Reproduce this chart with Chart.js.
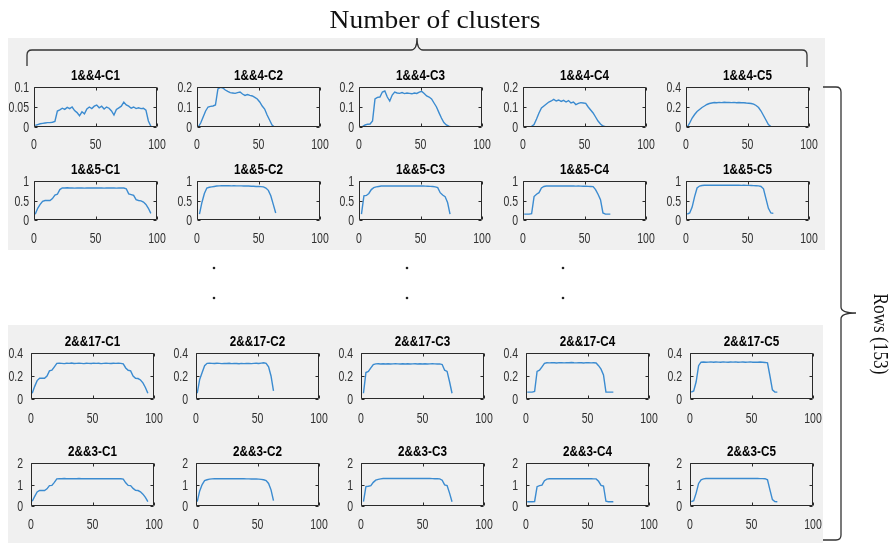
<!DOCTYPE html>
<html><head><meta charset="utf-8">
<script src="https://cdn.jsdelivr.net/npm/chart.js@4.4.1/dist/chart.umd.min.js"></script>
<style>
html,body{margin:0;padding:0;background:#fff;width:893px;height:543px;overflow:hidden;position:relative}
.panel{position:absolute;background:#f0f0f0}
canvas{position:absolute}
.t{position:absolute;font-family:"Liberation Serif","Times New Roman",serif;color:#111;white-space:nowrap;text-align:center}
svg{position:absolute;left:0;top:0}
</style></head><body>
<div class="panel" style="left:8px;top:38px;width:817px;height:212px"></div>
<div class="panel" style="left:8px;top:325px;width:815px;height:218px"></div>
<div id="host"></div>
<svg width="893" height="543">
<path d="M27,66 L27,55 Q27,50 32,50 L411,50 Q417,50 417,38 Q417,50 423,50 L802,50 Q807,50 807,55 L807,67" fill="none" stroke="#333" stroke-width="1.3"/>
<path d="M823,87 L836,87 Q841,87 841,92 L841,307 Q841,313 856,313 Q841,313 841,319 L841,535 Q841,540 836,540 L823,540" fill="none" stroke="#333" stroke-width="1.3"/>
<circle cx="214" cy="268" r="1.3" fill="#222"/><circle cx="214" cy="298" r="1.3" fill="#222"/>
<circle cx="407" cy="268" r="1.3" fill="#222"/><circle cx="407" cy="298" r="1.3" fill="#222"/>
<circle cx="563" cy="268" r="1.3" fill="#222"/><circle cx="563" cy="298" r="1.3" fill="#222"/>
</svg>
<div class="t" style="left:285px;top:7px;width:300px;font-size:25px;line-height:25px;transform:scaleX(1.1)">Number of clusters</div>
<div class="t" style="left:821px;top:322px;width:120px;height:24px;font-size:20px;line-height:24px;transform:rotate(90deg) scaleX(0.86)">Rows (153)</div>
<script>
const SANS = '"Liberation Sans", Arial, sans-serif';

const rowNames = ['1&&4', '1&&5', '2&&17', '2&&3'];
const clusterNames = ['C1', 'C2', 'C3', 'C4', 'C5'];
const xTickLabels = [0, 50, 100];
const yTicks14 = [[0, 0.05, 0.1], [0, 0.1, 0.2], [0, 0.1, 0.2], [0, 0.1, 0.2], [0, 0.2, 0.4]];
const yTicks15 = [0, 0.5, 1];
const yTicks217 = [0, 0.2, 0.4];
const yTicks23 = [0, 1, 2];

// first x of each series (samples every 2 units)
const xStart14 = [1, 1, 1, 1, 1];
const xStart15 = [1, 2, 2, 1, 1];
const xStart217 = [1, 1, 2, 1, 1];
const xStart23 = [1, 1, 2, 1, 1];

// ---- 1&&4 ----
const s14_C1 = [
  0.004,0.006,0.008,0.009,0.010,0.011,0.011,0.012,0.014,0.040,
  0.043,0.047,0.044,0.049,0.046,0.050,0.041,0.036,0.028,0.038,
  0.033,0.045,0.050,0.046,0.052,0.055,0.048,0.052,0.045,0.050,
  0.047,0.040,0.030,0.044,0.048,0.052,0.062,0.055,0.052,0.047,
  0.050,0.046,0.048,0.046,0.047,0.042,0.015,0.002];
const s14_C2 = [
  0.0,0.02,0.05,0.08,0.10,0.103,0.105,0.11,0.19,0.198,
  0.195,0.185,0.178,0.172,0.17,0.168,0.172,0.175,0.165,0.158,
  0.162,0.158,0.155,0.148,0.14,0.125,0.105,0.09,0.06,0.035,
  0.01,0.0];
const s14_C3 = [
  0.0,0.003,0.01,0.014,0.015,0.03,0.14,0.148,0.15,0.175,
  0.18,0.15,0.13,0.16,0.175,0.17,0.168,0.172,0.167,0.17,
  0.168,0.166,0.17,0.168,0.174,0.178,0.168,0.155,0.15,0.14,
  0.12,0.1,0.072,0.045,0.022,0.01,0.004,0.0];
const s14_C4 = [
  0.0,0.0,0.001,0.003,0.012,0.04,0.07,0.095,0.105,0.115,
  0.125,0.13,0.138,0.13,0.135,0.128,0.133,0.125,0.132,0.12,
  0.125,0.112,0.118,0.122,0.12,0.118,0.1,0.085,0.07,0.05,
  0.03,0.015,0.005,0.002,0.002,0.001,0.0];
const s14_C5 = [
  0.0,0.04,0.09,0.125,0.155,0.175,0.195,0.21,0.225,0.235,
  0.24,0.245,0.243,0.246,0.244,0.247,0.245,0.246,0.244,0.246,
  0.243,0.245,0.242,0.243,0.24,0.238,0.235,0.228,0.215,0.195,
  0.16,0.115,0.07,0.025,0.005,0.002,0.0];

// ---- 1&&5 ----
const s15_C1 = [
  0.15,0.3,0.4,0.48,0.5,0.5,0.5,0.55,0.64,0.66,
  0.78,0.82,0.82,0.825,0.82,0.822,0.818,0.82,0.823,0.82,
  0.818,0.821,0.82,0.824,0.82,0.819,0.822,0.82,0.818,0.821,
  0.82,0.823,0.82,0.818,0.82,0.822,0.82,0.8,0.67,0.65,
  0.63,0.52,0.5,0.49,0.46,0.4,0.3,0.17];
const s15_C2 = [
  0.15,0.45,0.68,0.82,0.84,0.85,0.86,0.87,0.875,0.88,
  0.88,0.878,0.88,0.875,0.878,0.876,0.874,0.875,0.872,0.87,
  0.87,0.866,0.865,0.86,0.858,0.855,0.85,0.82,0.76,0.62,
  0.4,0.18];
const s15_C3 = [
  0.15,0.62,0.63,0.68,0.78,0.83,0.85,0.86,0.87,0.875,
  0.87,0.872,0.875,0.87,0.873,0.875,0.872,0.874,0.87,0.873,
  0.872,0.87,0.874,0.871,0.87,0.872,0.868,0.865,0.862,0.86,
  0.85,0.83,0.7,0.64,0.6,0.45,0.15];
const s15_C4 = [
  0.15,0.15,0.15,0.16,0.6,0.66,0.7,0.82,0.86,0.87,
  0.875,0.872,0.874,0.87,0.873,0.875,0.871,0.874,0.87,0.872,
  0.87,0.868,0.872,0.869,0.866,0.865,0.862,0.86,0.855,0.78,
  0.66,0.52,0.18,0.15,0.15,0.15];
const s15_C5 = [
  0.15,0.18,0.33,0.6,0.82,0.87,0.885,0.89,0.892,0.89,
  0.893,0.89,0.891,0.894,0.89,0.892,0.89,0.893,0.89,0.891,
  0.89,0.892,0.889,0.89,0.888,0.887,0.885,0.882,0.88,0.875,
  0.86,0.8,0.55,0.3,0.18,0.17];

// ---- 2&&17 ----
const s217_C1 = [
  0.05,0.11,0.16,0.18,0.18,0.18,0.2,0.245,0.25,0.28,
  0.31,0.312,0.31,0.308,0.311,0.31,0.313,0.309,0.31,0.312,
  0.31,0.308,0.311,0.31,0.309,0.312,0.31,0.311,0.308,0.31,
  0.312,0.31,0.309,0.311,0.31,0.312,0.31,0.305,0.27,0.25,
  0.245,0.2,0.18,0.178,0.165,0.14,0.1,0.05];
const s217_C2 = [
  0.05,0.17,0.23,0.29,0.31,0.312,0.31,0.309,0.311,0.31,
  0.308,0.31,0.309,0.311,0.308,0.31,0.309,0.307,0.31,0.308,
  0.309,0.31,0.308,0.31,0.311,0.309,0.312,0.315,0.31,0.28,
  0.2,0.07];
const s217_C3 = [
  0.05,0.23,0.24,0.27,0.3,0.305,0.306,0.304,0.307,0.305,
  0.306,0.304,0.305,0.307,0.305,0.304,0.306,0.305,0.307,0.304,
  0.305,0.306,0.304,0.307,0.305,0.306,0.304,0.305,0.306,0.305,
  0.304,0.305,0.3,0.25,0.24,0.15,0.05];
const s217_C4 = [
  0.06,0.06,0.06,0.065,0.24,0.25,0.28,0.31,0.315,0.314,
  0.316,0.315,0.313,0.316,0.315,0.314,0.316,0.315,0.317,0.315,
  0.314,0.316,0.315,0.313,0.316,0.315,0.314,0.315,0.313,0.29,
  0.26,0.21,0.06,0.06,0.06,0.06];
const s217_C5 = [
  0.06,0.07,0.15,0.29,0.32,0.322,0.32,0.321,0.323,0.32,
  0.322,0.321,0.32,0.323,0.321,0.32,0.322,0.321,0.323,0.32,
  0.321,0.322,0.32,0.321,0.323,0.32,0.321,0.32,0.322,0.32,
  0.318,0.315,0.2,0.08,0.06,0.06];

// ---- 2&&3 ----
const s23_C1 = [
  0.22,0.45,0.65,0.72,0.72,0.72,0.8,0.95,0.96,1.1,
  1.26,1.27,1.265,1.28,1.27,1.275,1.268,1.272,1.27,1.278,
  1.27,1.265,1.272,1.27,1.275,1.268,1.27,1.274,1.27,1.268,
  1.272,1.27,1.275,1.27,1.268,1.272,1.27,1.25,1.08,0.96,
  0.95,0.82,0.73,0.72,0.66,0.55,0.4,0.2];
const s23_C2 = [
  0.2,0.7,1.0,1.18,1.22,1.25,1.26,1.27,1.272,1.27,
  1.268,1.27,1.272,1.27,1.268,1.265,1.27,1.266,1.264,1.265,
  1.262,1.26,1.258,1.26,1.255,1.25,1.24,1.22,1.18,1.05,
  0.75,0.25];
const s23_C3 = [
  0.2,0.9,0.92,0.95,1.1,1.2,1.24,1.26,1.28,1.278,
  1.28,1.282,1.279,1.28,1.283,1.28,1.278,1.281,1.28,1.282,
  1.28,1.279,1.281,1.28,1.278,1.28,1.279,1.276,1.275,1.27,
  1.268,1.26,1.2,0.98,0.95,0.6,0.2];
const s23_C4 = [
  0.2,0.2,0.2,0.21,0.9,0.95,0.97,1.18,1.25,1.27,
  1.272,1.27,1.275,1.27,1.268,1.273,1.27,1.272,1.27,1.274,
  1.27,1.268,1.272,1.27,1.268,1.27,1.265,1.262,1.26,1.15,
  0.96,0.93,0.22,0.2,0.2,0.2];
const s23_C5 = [
  0.2,0.25,0.6,1.05,1.22,1.26,1.28,1.282,1.28,1.283,
  1.28,1.281,1.283,1.28,1.282,1.28,1.281,1.283,1.28,1.282,
  1.28,1.281,1.279,1.28,1.278,1.28,1.277,1.276,1.275,1.272,
  1.27,1.22,0.75,0.3,0.21,0.2];

const grid = [
  {name: rowNames[0], series: [s14_C1, s14_C2, s14_C3, s14_C4, s14_C5], starts: xStart14, ticks: yTicks14},
  {name: rowNames[1], series: [s15_C1, s15_C2, s15_C3, s15_C4, s15_C5], starts: xStart15, ticks: [yTicks15, yTicks15, yTicks15, yTicks15, yTicks15]},
  {name: rowNames[2], series: [s217_C1, s217_C2, s217_C3, s217_C4, s217_C5], starts: xStart217, ticks: [yTicks217, yTicks217, yTicks217, yTicks217, yTicks217]},
  {name: rowNames[3], series: [s23_C1, s23_C2, s23_C3, s23_C4, s23_C5], starts: xStart23, ticks: [yTicks23, yTicks23, yTicks23, yTicks23, yTicks23]}
];

// layout (plot box positions in page pixels)
const colTop = [34, 197, 359, 523, 686];
const colBot = [31, 196, 361, 526, 690];
const rowTop = [87, 181, 353, 463];
const rowH = [40, 39, 46, 43];
const rowGap = [5, 5, 8, 8];
const rowLbl = [16.5, 17.5, 18.5, 18];
const BW = 123, YW = 40, PR = 14, XH = 32, TH = 24;

function drawScaled(ctx, text, x, y, align, sx) {
  ctx.save();
  ctx.translate(x, y);
  ctx.scale(sx, 1);
  ctx.textAlign = align;
  ctx.textBaseline = 'alphabetic';
  ctx.fillText(text, 0, 0);
  ctx.restore();
}

const boxPlugin = {
  id: 'box',
  afterDatasetsDraw(c, args, o) {
    const a = c.chartArea, ctx = c.ctx, xs = c.scales.x, ys = c.scales.y;
    const L = Math.round(a.left) + 0.5, T = Math.round(a.top) + 0.5;
    const R = Math.round(a.right) - 0.5, B = Math.round(a.bottom) - 0.5;
    ctx.save();
    ctx.strokeStyle = '#2a2a2a';
    ctx.lineWidth = 1;
    ctx.beginPath();
    ctx.rect(L, T, R - L, B - T);
    xs.ticks.forEach(t => {
      const p = Math.round(xs.getPixelForValue(t.value)) + 0.5;
      ctx.moveTo(p, B); ctx.lineTo(p, B - 3);
      ctx.moveTo(p, T); ctx.lineTo(p, T + 3);
    });
    ys.ticks.forEach(t => {
      const p = Math.round(ys.getPixelForValue(t.value)) + 0.5;
      ctx.moveTo(L, p); ctx.lineTo(L + 3, p);
      ctx.moveTo(R, p); ctx.lineTo(R - 3, p);
    });
    ctx.stroke();
    // tick labels (narrow, MATLAB-like)
    ctx.fillStyle = '#303030';
    ctx.font = '14px ' + SANS;
    xs.ticks.forEach(t => drawScaled(ctx, String(t.value), xs.getPixelForValue(t.value), a.bottom + o.lbl + 5, 'center', 0.75));
    ys.ticks.forEach(t => drawScaled(ctx, String(t.value), a.left - o.gap, ys.getPixelForValue(t.value) + 5, 'right', 0.75));
    // subplot title
    ctx.fillStyle = '#000';
    ctx.font = 'bold 15px ' + SANS;
    drawScaled(ctx, o.title, (a.left + a.right) / 2, a.top - 7, 'center', 0.78);
    ctx.restore();
  }
};

const host = document.getElementById('host');
grid.forEach((row, r) => {
  row.series.forEach((ys, c) => {
    const bx = (r < 2 ? colTop : colBot)[c];
    const by = rowTop[r], bh = rowH[r];
    const cv = document.createElement('canvas');
    cv.width = YW + BW + PR;
    cv.height = TH + bh + XH;
    cv.style.left = (bx - YW) + 'px';
    cv.style.top = (by - TH) + 'px';
    host.appendChild(cv);
    const yt = row.ticks[c];
    const x0 = row.starts[c];
    const pts = ys.map((v, i) => ({x: x0 + 2 * i, y: v}));
    const ch = new Chart(cv, {
      type: 'line',
      data: {datasets: [{data: pts, borderColor: '#3b8bd0', borderWidth: 1.4, pointRadius: 0, tension: 0, fill: false}]},
      options: {
        responsive: false, maintainAspectRatio: false, animation: false, devicePixelRatio: 1,
        layout: {padding: {left: 0, right: PR, top: TH, bottom: 0}},
        plugins: {
          legend: {display: false}, tooltip: {enabled: false}, title: {display: false},
          box: {title: row.name + '-' + clusterNames[c], gap: rowGap[r], lbl: rowLbl[r]}
        },
        scales: {
          x: {type: 'linear', min: 0, max: 100,
              grid: {display: false, drawTicks: false}, border: {display: false},
              afterBuildTicks: s => { s.ticks = xTickLabels.map(v => ({value: v})); },
              ticks: {display: false},
              afterFit: s => { s.height = XH; }},
          y: {type: 'linear', min: yt[0], max: yt[yt.length - 1],
              grid: {display: false, drawTicks: false}, border: {display: false},
              afterBuildTicks: s => { s.ticks = yt.map(v => ({value: v})); },
              ticks: {display: false},
              afterFit: s => { s.width = YW; }}
        }
      },
      plugins: [boxPlugin]
    });
    const dy = ch.chartArea.top - TH;
    if (dy) cv.style.top = (by - TH - dy) + 'px';
  });
});
</script>
</body></html>
